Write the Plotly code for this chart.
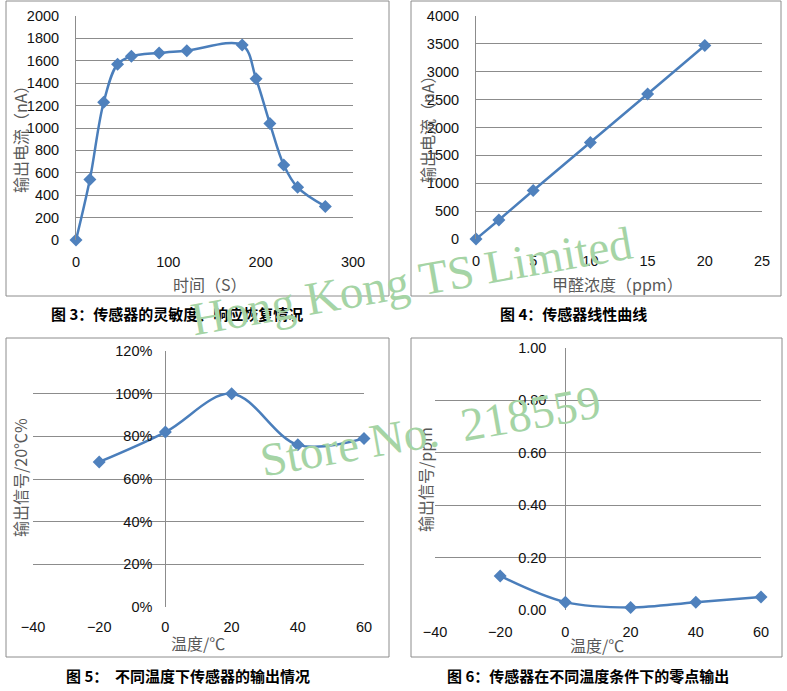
import plotly.graph_objects as go

W, H = 787, 691

# ---------- data ----------
t_sec = [0, 15, 30, 45, 60, 90, 120, 180, 195, 210, 225, 240, 270]
current_t = [0, 540, 1230, 1570, 1640, 1670, 1690, 1740, 1440, 1040, 670, 470, 300]

conc_ppm = [0, 2, 5, 10, 15, 20]
current_c = [0, 340, 870, 1730, 2600, 3470]

temp_c = [-20, 0, 20, 40, 60]
signal_rel = [0.68, 0.82, 1.00, 0.76, 0.79]

temp_c2 = [-20, 0, 20, 40, 60]
zero_ppm = [0.13, 0.03, 0.01, 0.03, 0.05]

captions = [
    "图 3：传感器的灵敏度、响应恢复情况",
    "图 4：传感器线性曲线",
    "图 5：\u00a0\u00a0不同温度下传感器的输出情况",
    "图 6：传感器在不同温度条件下的零点输出",
]
x_titles = ["时间（S）", "甲醛浓度（ppm）", "温度/℃", "温度/℃"]
y_titles = ["输出电流（nA）", "输出电流（nA）", "输出信号/20℃%", "输出信号/ppm"]
watermarks = ["Hong Kong TS Limited", "Store No.\u00a0 218559"]


def px(x):
    return x / W


def py(y):
    return 1 - y / H


LINE = "#4A7EBB"
MARK = "#4F81BD"
GRID = "#8C8C8C"
TICKF = dict(family="Liberation Sans, Arial, sans-serif", size=14.5, color="#111111")
CJK = "Noto Sans CJK SC"

fig = go.Figure()


def add_series(x, y, xa, ya, shape):
    fig.add_trace(go.Scatter(
        x=x, y=y, xaxis=xa, yaxis=ya, mode="lines+markers",
        line=dict(color=LINE, width=2.5, shape=shape, smoothing=1.0),
        marker=dict(symbol="diamond", size=10, color=MARK),
        cliponaxis=False, showlegend=False, hoverinfo="x+y",
    ))


add_series(t_sec, current_t, "x", "y", "spline")
add_series(conc_ppm, current_c, "x2", "y2", "linear")
add_series(temp_c, signal_rel, "x3", "y3", "spline")
add_series(temp_c2, zero_ppm, "x4", "y4", "spline")

common_x = dict(showgrid=False, zeroline=False, showline=False, ticks="", automargin=False,
                tickfont=TICKF, ticklabelstandoff=11, fixedrange=True)
common_y = dict(showgrid=True, gridcolor=GRID, gridwidth=1, zeroline=False, automargin=False,
                ticks="", tickfont=TICKF, ticklabelstandoff=13, fixedrange=True)

fig.update_layout(
    width=W, height=H, margin=dict(l=0, r=0, t=0, b=0, pad=0, autoexpand=False),
    paper_bgcolor="white", plot_bgcolor="white",
    xaxis=dict(common_x, domain=[px(76), px(353)], range=[0, 300], dtick=100, anchor="y"),
    yaxis=dict(common_y, domain=[py(240), py(16)], range=[0, 2000], dtick=200, anchor="x",
               showline=True, linecolor=GRID, linewidth=1),
    xaxis2=dict(common_x, domain=[px(476), px(762)], range=[0, 25], dtick=5, anchor="y2"),
    yaxis2=dict(common_y, domain=[py(239), py(16)], range=[0, 4000], dtick=500, anchor="x2",
                showline=True, linecolor=GRID, linewidth=1),
    xaxis3=dict(common_x, domain=[px(33), px(364)], range=[-40, 60], dtick=20, anchor="y3",
                zeroline=True, zerolinecolor=GRID, zerolinewidth=1, ticklabelstandoff=9),
    yaxis3=dict(common_y, domain=[py(607), py(351)], range=[0, 1.2], dtick=0.2,
                tickformat=".0%", anchor="free", position=px(33 + 0.4 * 331)),
    xaxis4=dict(common_x, domain=[px(435), px(761)], range=[-40, 60], dtick=20, anchor="y4",
                zeroline=True, zerolinecolor=GRID, zerolinewidth=1, ticklabelstandoff=11),
    yaxis4=dict(common_y, domain=[py(610), py(348)], range=[0, 1.0], dtick=0.2,
                tickformat=".2f", anchor="free", position=px(435 + 0.4 * 326), ticklabelstandoff=19),
)

# panel borders
boxes = [(6, 1, 389, 296), (411, 1, 781, 296), (6, 338, 389, 657), (411, 338, 782, 657)]
for (x0, y0, x1, y1) in boxes:
    fig.add_shape(type="rect", xref="paper", yref="paper",
                  x0=px(x0), x1=px(x1), y0=py(y1), y1=py(y0),
                  line=dict(color="#8C8C8C", width=1), fillcolor="rgba(0,0,0,0)", layer="below")

# axis titles
xt_pos = [(210, 284), (617, 284), (198, 643), (597, 645)]
yt_pos = [(20, 135), (427, 125), (20, 478), (425, 480)]
for i in range(4):
    fig.add_annotation(text=x_titles[i], x=px(xt_pos[i][0]), y=py(xt_pos[i][1]),
                       xref="paper", yref="paper", showarrow=False,
                       xanchor="center", yanchor="middle",
                       font=dict(family=CJK, size=16, color="#595959"))
    fig.add_annotation(text=y_titles[i], x=px(yt_pos[i][0]), y=py(yt_pos[i][1]),
                       xref="paper", yref="paper", showarrow=False, textangle=-90,
                       xanchor="center", yanchor="middle",
                       font=dict(family=CJK, size=16, color="#595959"))

# captions
cap_pos = [(177, 313), (573, 313), (188, 675), (588, 675)]
for i in range(4):
    fig.add_annotation(text="<b>" + captions[i] + "</b>", x=px(cap_pos[i][0]), y=py(cap_pos[i][1]),
                       xref="paper", yref="paper", showarrow=False,
                       xanchor="center", yanchor="middle",
                       font=dict(family=CJK, size=15, color="#000000"))

# watermark
wm_pos = [(411, 281), (430, 431)]
for i in range(2):
    fig.add_annotation(text=watermarks[i], x=px(wm_pos[i][0]), y=py(wm_pos[i][1]),
                       xref="paper", yref="paper", showarrow=False, textangle=-10,
                       xanchor="center", yanchor="middle",
                       font=dict(family="Liberation Serif, serif", size=47, color="rgb(165,212,165)"))

fig.write_html("out.html")
